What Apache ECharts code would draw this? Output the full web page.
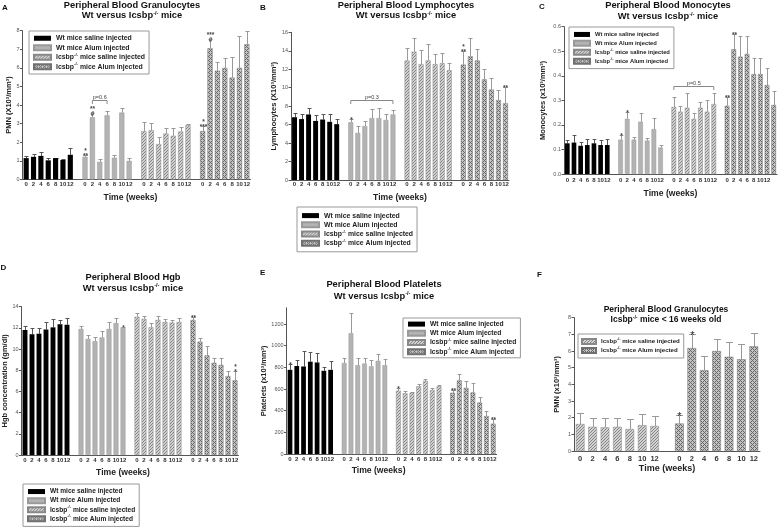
<!DOCTYPE html>
<html><head><meta charset="utf-8">
<script src="https://cdn.jsdelivr.net/npm/echarts@6/dist/echarts.min.js"></script>
<style>html,body{margin:0;padding:0;background:#fff}#c{width:778px;height:528px}</style>
</head><body><div id="c"></div><script>
// ---------- categories / names ----------
const weeks = ['0','2','4','6','8','10','12'];
const NAMES = ['Wt mice saline injected','Wt mice Alum injected','Icsbp-/- mice saline injected','Icsbp-/- mice Alum injected'];

// ---------- Panel A : granulocytes ----------
const aWtSal     = [1.15, 1.22, 1.27, 1.03, 1.15, 1.05, 1.33];
const aWtSalHi   = [1.25, 1.37, 1.50, 1.15, 1.17, 1.12, 1.68];
const aWtAlum    = [1.22, 3.35, 0.95, 3.45, 1.17, 3.60, 1.00];
const aWtAlumHi  = [1.32, 3.57, 1.10, 3.70, 1.30, 3.82, 1.15];
const aKoSal     = [2.60, 2.65, 1.90, 2.47, 2.35, 2.58, 2.92];
const aKoSalHi   = [3.07, 3.02, 2.30, 2.75, 2.75, 2.80, 3.00];
const aKoAlum    = [2.60, 7.05, 5.85, 6.00, 5.48, 6.00, 7.27];
const aKoAlumHi  = [2.87, 7.55, 6.30, 6.55, 6.60, 7.72, 8.00];
const aWtAlumMk  = ['*\n**', '**\n#', '', '', '', '', ''];
const aKoAlumMk  = ['*\n***', '***\n#', '', '', '', '', ''];

// ---------- Panel B : lymphocytes ----------
const bWtSal     = [6.80, 6.60, 7.10, 6.40, 6.55, 6.30, 6.05];
const bWtSalHi   = [7.30, 7.20, 7.75, 7.00, 7.10, 7.10, 6.65];
const bWtAlum    = [6.25, 5.10, 5.85, 6.70, 6.70, 6.50, 7.10];
const bWtAlumHi  = [6.65, 5.80, 6.35, 7.65, 7.75, 7.20, 7.55];
const bKoSal     = [12.95, 13.90, 12.55, 12.95, 12.55, 12.65, 11.90];
const bKoSalHi   = [14.35, 15.35, 14.05, 14.70, 13.70, 13.80, 12.70];
const bKoAlum    = [12.50, 13.40, 12.95, 10.90, 9.80, 8.65, 8.30];
const bKoAlumHi  = [14.00, 15.35, 14.15, 12.00, 11.10, 9.80, 10.10];
const bWtAlumMk  = ['*', '', '', '', '', '', ''];
const bKoAlumMk  = ['*\n**', '', '', '', '', '', '**'];

// ---------- Panel C : monocytes ----------
const cWtSal     = [0.125, 0.128, 0.115, 0.118, 0.125, 0.118, 0.118];
const cWtSalHi   = [0.140, 0.160, 0.130, 0.143, 0.143, 0.140, 0.143];
const cWtAlum    = [0.140, 0.225, 0.140, 0.213, 0.136, 0.183, 0.108];
const cWtAlumHi  = [0.160, 0.252, 0.150, 0.248, 0.148, 0.228, 0.118];
const cKoSal     = [0.273, 0.254, 0.270, 0.225, 0.270, 0.254, 0.285];
const cKoSalHi   = [0.313, 0.275, 0.330, 0.248, 0.293, 0.300, 0.330];
const cKoAlum    = [0.278, 0.508, 0.478, 0.489, 0.407, 0.407, 0.362, 0.281];
const cKoAlumHi  = [0.312, 0.570, 0.562, 0.562, 0.471, 0.471, 0.430, 0.338];
const cWtAlumMk  = ['*', '*', '', '', '', '', ''];
const cKoAlumMk  = ['**', '**', '', '', '', '', '', ''];

// ---------- Panel D : Hgb ----------
const dWtSal     = [11.80, 11.40, 11.45, 11.85, 12.05, 12.35, 12.30];
const dWtSalHi   = [12.15, 11.95, 12.00, 12.55, 12.85, 12.70, 12.95];
const dWtAlum    = [11.90, 10.95, 10.75, 11.10, 11.90, 12.45, 12.05];
const dWtAlumHi  = [12.20, 11.30, 11.15, 11.70, 12.55, 12.90, 12.10];
const dKoSal     = [13.05, 12.85, 12.05, 12.75, 12.55, 12.50, 12.55];
const dKoSalHi   = [13.45, 13.15, 12.45, 13.10, 12.80, 12.75, 12.90];
const dKoAlum    = [12.75, 10.70, 9.40, 8.70, 8.50, 7.45, 7.05];
const dKoAlumHi  = [13.00, 11.00, 10.30, 9.20, 9.15, 7.95, 7.90];
const dWtAlumMk  = ['', '', '', '', '', '', '*'];
const dKoAlumMk  = ['**', '', '', '', '', '', '*\n*'];

// ---------- Panel E : platelets ----------
const eWtSal     = [777, 812, 808, 852, 845, 768, 777];
const eWtSalHi   = [833, 868, 950, 945, 930, 802, 862];
const eWtAlum    = [840, 1115, 820, 835, 810, 860, 820];
const eWtAlumHi  = [890, 1300, 890, 890, 870, 925, 875];
const eKoSal     = [585, 560, 565, 625, 675, 590, 625];
const eKoSalHi   = [605, 585, 570, 645, 690, 605, 640];
const eKoAlum    = [565, 680, 610, 568, 475, 350, 280];
const eKoAlumHi  = [590, 740, 675, 655, 530, 395, 325];
const eWtSalMk   = ['*', '', '', '', '', '', ''];
const eKoSalMk   = ['*', '', '', '', '', '', ''];
const eKoAlumMk  = ['**', '', '', '', '', '', '**'];

// ---------- Panel F : granulocytes, young Icsbp-/- ----------
const fKoSal     = [1.62, 1.45, 1.42, 1.45, 1.32, 1.55, 1.50];
const fKoSalHi   = [2.28, 1.98, 1.98, 1.98, 1.92, 2.20, 2.10];
const fKoAlum    = [1.65, 6.18, 4.85, 6.00, 5.65, 5.50, 6.28];
const fKoAlumHi  = [2.15, 7.05, 5.72, 6.75, 6.52, 6.45, 7.10];
const fKoAlumMk  = ['*', '*', '', '', '', '', ''];

// ---------- styles ----------
const FONT = '"Liberation Sans", Arial, Helvetica, sans-serif';
function pattern(kind){
  const n = kind === 'hatch' ? 3 : 4;
  const c = document.createElement('canvas'); c.width = n; c.height = n;
  const ctx = c.getContext('2d');
  ctx.fillStyle = kind === 'hatch' ? '#d2d2d2' : '#c4c4c4';
  ctx.fillRect(0,0,n,n);
  ctx.fillStyle = kind === 'hatch' ? '#858585' : '#666666';
  for (let x=0;x<n;x++) for (let y=0;y<n;y++){
    if (kind === 'hatch') { if ((x + y) % n === n-1) ctx.fillRect(x,y,1,1); }
    else { if ((x + y) % n === 0 || ((x - y) % n + n) % n === 0) ctx.fillRect(x,y,1,1); }
  }
  return {image: c, repeat: 'repeat'};
}
const STY = [
  {color:'#000000', border:'#000000', bw:0, err:'#555'},
  {color:'#b3b3b3', border:'#999999', bw:0.5, err:'#999'},
  {color:pattern('hatch'), border:'#888888', bw:0.5, err:'#999'},
  {color:pattern('cross'), border:'#707070', bw:0.5, err:'#999'}
];

const option = {animation:false, backgroundColor:'#fff', textStyle:{fontFamily:FONT},
  title:[], legend:[], grid:[], xAxis:[], yAxis:[], series:[]};

function addPanel(p){
  const k = option.grid.length;
  option.grid.push({left:p.box[0], top:p.box[1], width:p.box[2], height:p.box[3], containLabel:false, outerBoundsMode:'none'});
  const cats = []; const pos = [];
  p.groups.forEach((g,gi)=>{
    if (gi>0) cats.push('');
    const idx = [];
    g.vals.forEach((v,j)=>{ idx.push(cats.length); cats.push(j < weeks.length ? weeks[j] : ''); });
    pos.push(idx);
  });
  option.xAxis.push({type:'category', gridIndex:k, data:cats, boundaryGap:true,
    axisLine:{show:true, onZero:true, lineStyle:{color:'#555', width:1}}, axisTick:{show:false},
    axisLabel:{interval:0, fontSize:p.xLabSize||6, fontWeight:'bold', color:'#333', margin:p.xLabMargin, fontFamily:FONT},
    name:'Time (weeks)', nameLocation:'middle', nameGap:p.xNameGap,
    nameTextStyle:{fontSize:p.xNameSize||8.6, fontWeight:'bold', color:'#222', fontFamily:FONT, padding:[0,p.xShift||0,0,0]}});
  option.yAxis.push({type:'value', gridIndex:k, min:p.y[0], max:p.y[1], interval:p.y[2], splitLine:{show:false},
    axisLine:{show:true, lineStyle:{color:'#555', width:1}}, axisTick:{show:true, length:2.5, lineStyle:{color:'#555'}},
    axisLabel:{fontSize:5.5, color:'#555', margin:3, fontFamily:FONT, showMaxLabel: p.hideMax ? false : null,
      formatter: (v)=> p.yDec ? v.toFixed(p.yDec) : String(v)},
    name:p.yName, nameLocation:'middle', nameRotate:90, nameGap:p.yNameGap,
    nameTextStyle:{fontSize:p.yNameSize||7.5, fontWeight:'bold', color:'#222', fontFamily:FONT}});
  p.groups.forEach((g,gi)=>{
    const st = STY[g.s];
    const data = cats.map(()=> '-');
    pos[gi].forEach((ci,j)=>{ data[ci] = g.vals[j]; });
    option.series.push({type:'bar', name:NAMES[g.s], xAxisIndex:k, yAxisIndex:k, stack:'s'+k, data,
      barCategoryGap:'30%', silent:true, z:2,
      itemStyle:{color:st.color, borderColor:st.border, borderWidth:st.bw}});
    const marks = g.marks || [];
    option.series.push({type:'custom', xAxisIndex:k, yAxisIndex:k, silent:true, z:1,
      data: pos[gi].map((ci,j)=>[ci, g.hi[j], g.vals[j]]),
      renderItem:(params, api)=>{
        const ci = api.value(0), hi = api.value(1), v = api.value(2);
        const pT = api.coord([ci,hi]), pB = api.coord([ci,v]);
        const band = api.size([1,0])[0];
        const x = Math.round(pT[0]) + 0.5, yT = Math.round(pT[1]) + 0.5;
        const cw = band * 0.28;
        const ch = [
          {type:'line', shape:{x1:x, y1:pB[1], x2:x, y2:yT}, style:{stroke:st.err, lineWidth:1}},
          {type:'line', shape:{x1:x-cw, y1:yT, x2:x+cw, y2:yT}, style:{stroke:st.err, lineWidth:1}}
        ];
        const m = marks[params.dataIndex];
        if (m) ch.push({type:'text', style:{text:m, x:x, y:yT + (p.markBig ? 6 : 2.5), align:'center', verticalAlign:'bottom',
          fontSize:p.markBig ? 11 : 6.5, lineHeight:p.markBig ? 9 : 4.5, fontFamily:FONT, fontWeight: p.markBig ? 'normal' : 'bold',
          fill:p.markBig ? '#222' : '#444'}});
        return {type:'group', children:ch};
      }});
  });
  if (p.brackets) {
    option.series.push({type:'custom', xAxisIndex:k, yAxisIndex:k, silent:true, z:1,
      data: p.brackets.map(b=>[b.from, b.to, b.y]),
      renderItem:(params, api)=>{
        const a = api.coord([api.value(0), api.value(2)]), b = api.coord([api.value(1), api.value(2)]);
        const y = Math.round(a[1]) + 0.5;
        return {type:'group', children:[
          {type:'polyline', shape:{points:[[a[0],y+3.5],[a[0],y],[b[0],y],[b[0],y+3.5]]}, style:{stroke:'#888', fill:null, lineWidth:1}},
          {type:'text', style:{text:p.brackets[params.dataIndex].text, x:(a[0]+b[0])/2, y:y-0.5, align:'center', verticalAlign:'bottom',
            fontSize:5.5, fill:'#444', fontFamily:FONT}}
        ]};
      }});
  }
  // title
  option.title.push({text:p.title, left:p.tx, top:p.ty, textAlign:'center', padding:0,
    textStyle:{fontSize:p.tfs||9.3, fontWeight:'bold', color:'#111', lineHeight:p.tlh||10.6, fontFamily:FONT,
      rich:{sup:{fontSize:(p.tfs||9.3)*0.6, fontWeight:'bold', color:'#111', verticalAlign:'top', lineHeight:(p.tfs||9.3)*0.7, fontFamily:FONT}}}});
  option.title.push({text:p.letter, left:p.lx, top:p.ly, padding:0,
    textStyle:{fontSize:8, fontWeight:'bold', color:'#111', fontFamily:FONT}});
  // legend
  const L = p.legend;
  option.legend.push({show:true, orient:'vertical', left:L.left, top:L.top, selectedMode:false, z:6,
    data:L.names.map(n=>({name:n, icon:'rect'})), itemWidth:L.iw||17, itemHeight:5, itemGap:0,
    padding:L.pad, borderColor:'#999', borderWidth:1, backgroundColor:'#fff',
    formatter:(n)=>n.replace('-/-','{sup|-/-}'),
    textStyle:{fontSize:L.fs, fontWeight:'bold', color:'#222', fontFamily:FONT, lineHeight:L.row,
      rich:{sup:{fontSize:L.fs*0.62, fontWeight:'bold', color:'#222', verticalAlign:'top', lineHeight:L.fs*0.75, fontFamily:FONT}}}});
}

const SUPTXT = 'Wt versus Icsbp{sup|-/-} mice';

addPanel({letter:'A', lx:2, ly:4, title:'Peripheral Blood Granulocytes\n' + SUPTXT, tx:132, ty:0,
  box:[22.5, 30.7, 228, 148.8], y:[0,8,1], yName:'PMN (X10³/mm³)', yNameGap:6, xNameGap:13.5, xShift:12, xLabMargin:1.5,
  groups:[{s:0, vals:aWtSal, hi:aWtSalHi}, {s:1, vals:aWtAlum, hi:aWtAlumHi, marks:aWtAlumMk},
          {s:2, vals:aKoSal, hi:aKoSalHi}, {s:3, vals:aKoAlum, hi:aKoAlumHi, marks:aKoAlumMk}],
  brackets:[{from:9, to:11, y:4.29, text:'p=0.6'}],
  legend:{left:29, top:31, fs:6.9, row:9.5, pad:[2.5,4,2.5,4], names:NAMES}});

addPanel({letter:'B', lx:260, ly:4, title:'Peripheral Blood Lymphocytes\n' + SUPTXT, tx:406, ty:0,
  box:[291, 32.3, 218, 147.7], y:[0,16,2], yName:'Lymphocytes (X10³/mm³)', yNameGap:13, xNameGap:13, xLabMargin:1.5,
  groups:[{s:0, vals:bWtSal, hi:bWtSalHi}, {s:1, vals:bWtAlum, hi:bWtAlumHi, marks:bWtAlumMk},
          {s:2, vals:bKoSal, hi:bKoSalHi}, {s:3, vals:bKoAlum, hi:bKoAlumHi, marks:bKoAlumMk}],
  brackets:[{from:8, to:14, y:8.66, text:'p=0.3'}],
  legend:{left:297, top:207, fs:6.9, row:9.2, pad:[4,4,4,4], names:NAMES}});

addPanel({letter:'C', lx:539, ly:3, title:'Peripheral Blood Monocytes\n' + SUPTXT, tx:668, ty:0.5,
  box:[564, 26.7, 213, 147.3], y:[0,0.6,0.1], yDec:1, yName:'Monocytes (x10³/mm³)', yNameGap:17, xNameGap:15, xLabMargin:3,
  groups:[{s:0, vals:cWtSal, hi:cWtSalHi}, {s:1, vals:cWtAlum, hi:cWtAlumHi, marks:cWtAlumMk},
          {s:2, vals:cKoSal, hi:cKoSalHi}, {s:3, vals:cKoAlum, hi:cKoAlumHi, marks:cKoAlumMk}],
  brackets:[{from:16, to:22, y:0.358, text:'p=0.5'}],
  legend:{left:569, top:27, fs:5.8, row:8.9, pad:[3,4,3,4], iw:16, names:NAMES}});

addPanel({letter:'D', lx:0.5, ly:264, title:'Peripheral Blood Hgb\n' + SUPTXT, tx:133, ty:271.5, tlh:11.4,
  box:[21.5, 306.7, 217, 148.3], y:[0,14,2], yName:'Hgb concentration (gm/dl)', yNameGap:11.7, xNameGap:12.7, xShift:14, xLabMargin:2,
  groups:[{s:0, vals:dWtSal, hi:dWtSalHi}, {s:1, vals:dWtAlum, hi:dWtAlumHi, marks:dWtAlumMk},
          {s:2, vals:dKoSal, hi:dKoSalHi}, {s:3, vals:dKoAlum, hi:dKoAlumHi, marks:dKoAlumMk}],
  legend:{left:23, top:484, fs:6.6, row:9.1, pad:[3,4,3,4], names:NAMES}});

addPanel({letter:'E', lx:260, ly:269, title:'Peripheral Blood Platelets\n' + SUPTXT, tx:384, ty:278.5, tlh:11.7,
  box:[286.6, 307.75, 210, 146.25], y:[0,1350,200], hideMax:true, yName:'Platelets (x10³/mm³)', yNameGap:19, xNameGap:12, xShift:26, xLabMargin:2,
  groups:[{s:0, vals:eWtSal, hi:eWtSalHi, marks:eWtSalMk}, {s:1, vals:eWtAlum, hi:eWtAlumHi},
          {s:2, vals:eKoSal, hi:eKoSalHi, marks:eKoSalMk}, {s:3, vals:eKoAlum, hi:eKoAlumHi, marks:eKoAlumMk}],
  legend:{left:403, top:318, fs:6.7, row:9.2, pad:[1.5,4,1.5,4], names:NAMES}});

addPanel({letter:'F', lx:537, ly:271, title:'Peripheral Blood Granulocytes\nIcsbp{sup|-/-} mice < 16 weeks old', tx:666, ty:305, tfs:8.5, tlh:10,
  box:[574, 317.7, 186, 133.3], y:[0,8,1], yName:'PMN (x10³/mm³)', yNameGap:12.6, xNameGap:13.5, xLabMargin:3.5, xLabSize:7.5, xNameSize:9,
  markBig:true,
  groups:[{s:2, vals:fKoSal, hi:fKoSalHi}, {s:3, vals:fKoAlum, hi:fKoAlumHi, marks:fKoAlumMk}],
  legend:{left:578, top:334, fs:6.1, row:9, pad:[3,4,3,3], iw:14, names:NAMES.slice(2)}});

const chart = echarts.init(document.getElementById('c'), null, {renderer:'canvas'});
chart.setOption(option);
</script></body></html>
